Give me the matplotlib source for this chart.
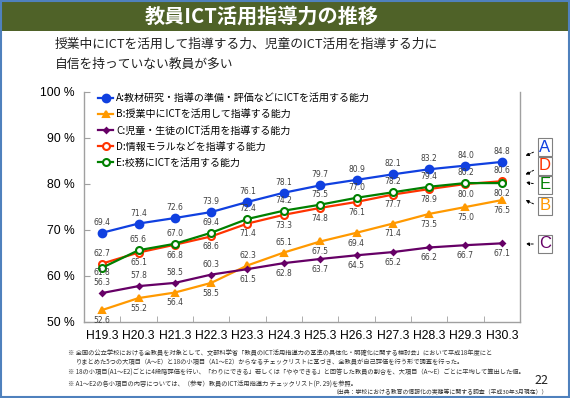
import matplotlib
matplotlib.use("Agg")
import matplotlib.pyplot as plt
from matplotlib.patches import Rectangle
from matplotlib.ticker import FixedLocator

plt.rcParams["font.family"] = ["Noto Sans CJK JP", "DejaVu Sans"]

# === データ ===
years = ["H19.3", "H20.3", "H21.3", "H22.3", "H23.3", "H24.3",
         "H25.3", "H26.3", "H27.3", "H28.3", "H29.3", "H30.3"]
skill_a = [69.4, 71.4, 72.6, 73.9, 76.1, 78.1, 79.7, 80.9, 82.1, 83.2, 84.0, 84.8]
skill_b = [52.6, 55.2, 56.4, 58.5, 62.3, 65.1, 67.5, 69.4, 71.4, 73.5, 75.0, 76.5]
skill_c = [56.3, 57.8, 58.5, 60.3, 61.5, 62.8, 63.7, 64.5, 65.2, 66.2, 66.7, 67.1]
skill_d = [62.7, 65.1, 66.8, 68.6, 71.4, 73.3, 74.8, 76.1, 77.7, 78.9, 80.0, 80.6]
skill_e = [61.8, 65.6, 67.0, 69.4, 72.4, 74.2, 75.5, 77.0, 78.2, 79.4, 80.2, 80.2]
labels = [
    "A:教材研究・指導の準備・評価などにICTを活用する能力",
    "B:授業中にICTを活用して指導する能力",
    "C:児童・生徒のICT活用を指導する能力",
    "D:情報モラルなどを指導する能力",
    "E:校務にICTを活用する能力",
]

# 数値ラベルの上下 (+ 上 / - 下、大きさはずらし量の倍率)
side_a = [1] * 12
side_b = [-1, -1, -1, -1, 1, 1, -1, -1, -1, -1, -1, -1]
side_c = [1, 1, 1, 1, -1, -1, -1, -1, -1, -1, -1, -1]
side_d = [1, -1, -1, -1, -1, -1, -1, -1, -1, -1, -1, 1]
side_e = [-0.5, 1, 1, 1, 1, 1, 1, 1, 1, 1, 1, -1]

W, H = 570, 398


def fx(px):
    return px / W


def fy(py):
    return 1 - py / H


fig = plt.figure(figsize=(5.7, 3.98), dpi=100)

# スライド枠・タイトルバー
fig.patches.append(Rectangle((0, fy(31)), 1, 31 / H, transform=fig.transFigure,
                             facecolor="#4F6228", edgecolor="none", zorder=0))
fig.patches.append(Rectangle((0.002, 0.003), 0.996, 0.994, transform=fig.transFigure,
                             facecolor="none", edgecolor="#4F81BD", lw=1.5, zorder=5))
fig.text(fx(262), fy(16), "教員ICT活用指導力の推移", color="white", fontsize=14.5,
         fontweight="bold", ha="center", va="center")
fig.text(fx(55), fy(44), "授業中にICTを活用して指導する力、児童のICT活用を指導する力に",
         fontsize=9.2, ha="left", va="center", color="#202020")
fig.text(fx(55), fy(64), "自信を持っていない教員が多い",
         fontsize=9.2, ha="left", va="center", color="#202020")

ax = fig.add_axes([fx(84), fy(322), (520 - 84) / W, (322 - 92) / H])

series = [
    (skill_a, labels[0], "#1040E0", "o", 5.5, "#1040E0", side_a),
    (skill_b, labels[1], "#FF9900", "^", 4.5, "#FF9900", side_b),
    (skill_c, labels[2], "#660066", "D", 2.5, "#660066", side_c),
    (skill_d, labels[3], "#FF3300", "o", 5.0, "white", side_d),
    (skill_e, labels[4], "#008000", "o", 5.0, "white", side_e),
]
x = list(range(len(years)))
for vals, lab, color, mk, ms, fc, sides in series:
    ax.plot(x, vals, color=color, lw=1.6, marker=mk, markersize=ms,
            markerfacecolor=fc, markeredgecolor=color, markeredgewidth=1.5,
            label=lab)
    for i, v in enumerate(vals):
        ax.annotate(f"{v:.1f}", (i, v), xytext=(0, 7.5 * sides[i]),
                    textcoords="offset points", ha="center", va="center",
                    fontsize=5.5, color="#404040", family=["DejaVu Sans"])

ax.set_xlim(-0.5, len(years) - 0.5)
ax.set_ylim(50, 100)
ax.set_xticks(x)
ax.set_xticklabels(years, fontsize=8.7, family=["Liberation Sans"])
ax.xaxis.set_minor_locator(FixedLocator([i + 0.5 for i in range(len(years) - 1)]))
ax.set_yticks(range(50, 101, 10))
ax.set_yticklabels([f"{t} %" for t in range(50, 101, 10)], fontsize=8.7,
                   family=["Liberation Sans"])
ax.tick_params(axis="x", which="major", length=0, pad=6)
ax.tick_params(axis="x", which="minor", direction="in", length=4, color="#A0A0A0")
ax.tick_params(axis="y", direction="in", length=4, color="#A0A0A0", pad=7)
ax.spines["top"].set_visible(False)
for s in ["left", "bottom", "right"]:
    ax.spines[s].set_color("#A0A0A0")
    ax.spines[s].set_linewidth(1.0)

ax.legend(loc="upper left", bbox_to_anchor=(fx(98), fy(93)),
          bbox_transform=fig.transFigure, frameon=False, fontsize=7.2,
          handlelength=1.5, handletextpad=0.3, labelspacing=0.62,
          borderpad=0, borderaxespad=0)

# 右側の系列記号
boxes = [("A", "#1040E0", 147, (536, 151), (523, 157)),
         ("D", "#FF3300", 166, (536, 169), (523, 176)),
         ("E", "#008000", 185, (536, 184), (523, 182)),
         ("B", "#FF9900", 206, (536, 205), (523, 199)),
         ("C", "#660066", 244, (536, 244), (523, 244))]
for letter, color, yc, p0, p1 in boxes:
    fig.text(fx(545), fy(yc), letter, color=color, fontsize=12, ha="center",
             va="center", family=["Liberation Sans"],
             bbox=dict(boxstyle="square,pad=0.08", fc="white", ec="#808080", lw=0.8))
    ax.annotate("", xy=(fx(p1[0]), fy(p1[1])), xycoords="figure fraction",
                xytext=(fx(p0[0]), fy(p0[1])), textcoords="figure fraction",
                annotation_clip=False,
                arrowprops=dict(arrowstyle="-|>", color="black", lw=0.7,
                                linestyle=(0, (2, 1.5)), mutation_scale=5))

# 注記
notes = [
    (68, 353, "※ 全国の公立学校における全教員を対象として、文部科学省「教員のICT活用指導力の基準の具体化・明確化に関する検討会」において平成18年度にと"),
    (76, 362, "りまとめた5つの大項目（A～E）と18の小項目（A1～E2）からなるチェックリストに基づき、全教員が自己評価を行う形で調査を行った。"),
    (68, 373, "※ 18の小項目(A1～E2)ごとに4段階評価を行い、「わりにできる」若しくは「ややできる」と回答した教員の割合を、大項目（A～E）ごとに平均して算出した値。"),
    (68, 385, "※ A1～E2の各小項目の内容については、（参考）教員のICT活用指導力 チェックリスト(P. 29)を参照。"),
]
for px, py, t in notes:
    fig.text(fx(px), fy(py), t, fontsize=4.5, ha="left", va="center", color="#303030")
fig.text(fx(333), fy(392), "（出典：学校における教育の情報化の実態等に関する調査（平成30年3月現在））",
         fontsize=4.2, ha="left", va="center", color="#303030")
fig.text(fx(541), fy(381), "22", fontsize=9, ha="center", va="center", color="#202020")

fig.savefig("out.png", dpi=100)
